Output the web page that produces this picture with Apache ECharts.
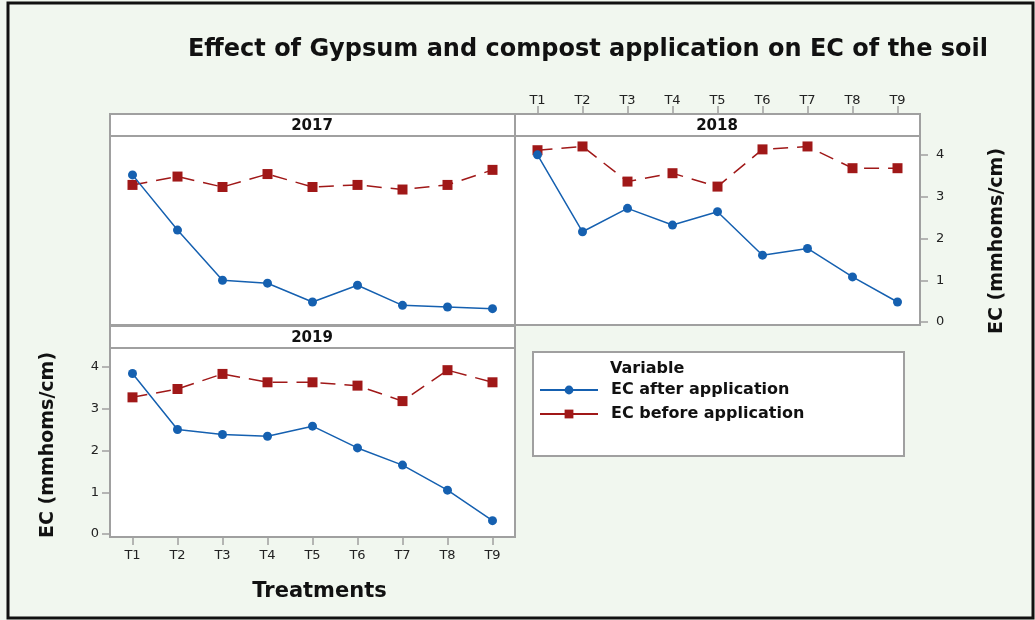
<!DOCTYPE html>
<html>
<head>
<meta charset="utf-8">
<script src="https://cdn.jsdelivr.net/npm/echarts@6/dist/echarts.min.js"></script>
<style>
  html, body { margin: 0; padding: 0; background: #f1f7ef; }
  #chart { width: 1035px; height: 620px; }
</style>
</head>
<body>
<div id="chart"></div>
<script>
// 数据
const treatments = ['T1', 'T2', 'T3', 'T4', 'T5', 'T6', 'T7', 'T8', 'T9'];
const years = ['2017', '2018', '2019'];
const yTicks = [0, 1, 2, 3, 4];

const after2017 = [3.52, 2.20, 1.00, 0.93, 0.48, 0.88, 0.40, 0.36, 0.32];
const before2017 = [3.28, 3.48, 3.23, 3.54, 3.23, 3.28, 3.17, 3.28, 3.64];
const after2018 = [4.00, 2.16, 2.72, 2.32, 2.64, 1.60, 1.76, 1.08, 0.48];
const before2018 = [4.11, 4.20, 3.36, 3.56, 3.24, 4.13, 4.20, 3.68, 3.68];
const after2019 = [3.84, 2.50, 2.38, 2.34, 2.58, 2.06, 1.65, 1.05, 0.32];
const before2019 = [3.27, 3.47, 3.83, 3.63, 3.63, 3.55, 3.18, 3.92, 3.63];

const afterData = [after2017, after2018, after2019];
const beforeData = [before2017, before2018, before2019];

const FONT = '"DejaVu Sans", sans-serif';
const GRAY = '#a0a0a0';
const BLUE = '#1560b0';
const RED = '#a01818';

// 面板位置
const panels = [
    { left: 110, top: 136, width: 405, height: 189 },
    { left: 515, top: 136, width: 405, height: 189 },
    { left: 110, top: 348, width: 405, height: 189 }
];

const chart = echarts.init(document.getElementById('chart'));

const xAxes = panels.map((p, i) => ({
    type: 'category',
    gridIndex: i,
    data: treatments,
    boundaryGap: true,
    position: i === 1 ? 'top' : 'bottom',
    offset: i === 1 ? 22 : 0,
    show: i !== 0,
    axisLine: { show: i === 1, onZero: false, lineStyle: { color: GRAY, width: 2 } },
    axisTick: { show: true, alignWithLabel: true, length: 8, lineStyle: { color: GRAY, width: 1.5 } },
    axisLabel: { color: '#222', fontFamily: FONT, fontSize: 13, margin: i === 1 ? 7 : 12 },
    splitLine: { show: false },
    name: i === 2 ? 'Treatments' : '',
    nameLocation: 'middle',
    nameGap: 44,
    nameTextStyle: { color: '#111', fontFamily: FONT, fontSize: 21, fontWeight: 'bold', padding: [0, 0, 0, 14] }
}));

const yAxes = panels.map((p, i) => ({
    type: 'value',
    gridIndex: i,
    min: -0.07,
    max: 4.45,
    show: i !== 0,
    position: i === 1 ? 'right' : 'left',
    axisLine: { show: false, onZero: false },
    axisTick: { show: true, length: 8, customValues: yTicks, lineStyle: { color: GRAY, width: 1.5 } },
    axisLabel: { color: '#222', fontFamily: FONT, fontSize: 13, margin: i === 1 ? 16 : 11, customValues: yTicks },
    splitLine: { show: false }
}));

const series = [];
years.forEach((y, i) => {
    series.push({
        name: 'EC after application',
        type: 'line',
        xAxisIndex: i,
        yAxisIndex: i,
        data: afterData[i],
        symbol: 'circle',
        symbolSize: 9,
        itemStyle: { color: BLUE },
        lineStyle: { color: BLUE, width: 1.5 },
        z: 3
    });
    series.push({
        name: 'EC before application',
        type: 'line',
        xAxisIndex: i,
        yAxisIndex: i,
        data: beforeData[i],
        symbol: 'rect',
        symbolSize: 10,
        itemStyle: { color: RED },
        lineStyle: { color: RED, width: 1.5, type: [15, 9] },
        z: 2
    });
});

// 面板标题条
const headerGraphics = [];
[[110, 114], [515, 114], [110, 326]].forEach((pos, i) => {
    headerGraphics.push({
        type: 'rect',
        shape: { x: pos[0], y: pos[1], width: 405, height: 22 },
        style: { fill: '#fff', stroke: GRAY, lineWidth: 2 },
        z: 1
    });
    headerGraphics.push({
        type: 'text',
        x: pos[0] + 202,
        y: pos[1] + 12,
        style: {
            text: years[i], fill: '#111', font: 'bold 15px ' + FONT,
            textAlign: 'center', textVerticalAlign: 'middle'
        },
        z: 2
    });
});

const option = {
    backgroundColor: '#f1f7ef',
    animation: false,
    grid: panels.map(p => ({
        left: p.left, top: p.top, width: p.width, height: p.height,
        show: true, backgroundColor: '#fff', borderColor: GRAY, borderWidth: 2
    })),
    xAxis: xAxes,
    yAxis: yAxes,
    legend: {
        orient: 'vertical',
        left: 539,
        top: 382,
        padding: 0,
        itemWidth: 58,
        itemHeight: 11,
        itemGap: 8,
        textStyle: { color: '#111', fontFamily: FONT, fontSize: 16, fontWeight: 'bold', padding: [0, 0, 0, 8] },
        data: [
            { name: 'EC after application' },
            { name: 'EC before application', lineStyle: { type: 'solid' } }
        ]
    },
    graphic: [
        {
            type: 'rect',
            shape: { x: 8, y: 3, width: 1025, height: 615 },
            style: { fill: 'none', stroke: '#111', lineWidth: 3 },
            z: 0
        },
        {
            type: 'rect',
            shape: { x: 533, y: 352, width: 371, height: 104 },
            style: { fill: '#fff', stroke: GRAY, lineWidth: 2 },
            z: 0
        },
        {
            type: 'text',
            x: 610,
            y: 369,
            style: { text: 'Variable', fill: '#111', font: 'bold 16px ' + FONT, textVerticalAlign: 'middle' }
        },
        {
            type: 'text',
            x: 588,
            y: 50,
            style: {
                text: 'Effect of Gypsum and compost application on EC of the soil',
                fill: '#111', font: 'bold 24px ' + FONT,
                textAlign: 'center', textVerticalAlign: 'middle'
            }
        },
        {
            type: 'text',
            x: 48,
            y: 445,
            rotation: Math.PI / 2,
            style: {
                text: 'EC (mmhoms/cm)', fill: '#111', font: 'bold 19px ' + FONT,
                textAlign: 'center', textVerticalAlign: 'middle'
            }
        },
        {
            type: 'text',
            x: 997,
            y: 241,
            rotation: Math.PI / 2,
            style: {
                text: 'EC (mmhoms/cm)', fill: '#111', font: 'bold 19px ' + FONT,
                textAlign: 'center', textVerticalAlign: 'middle'
            }
        }
    ].concat(headerGraphics),
    series: series
};

chart.setOption(option);
</script>
</body>
</html>
